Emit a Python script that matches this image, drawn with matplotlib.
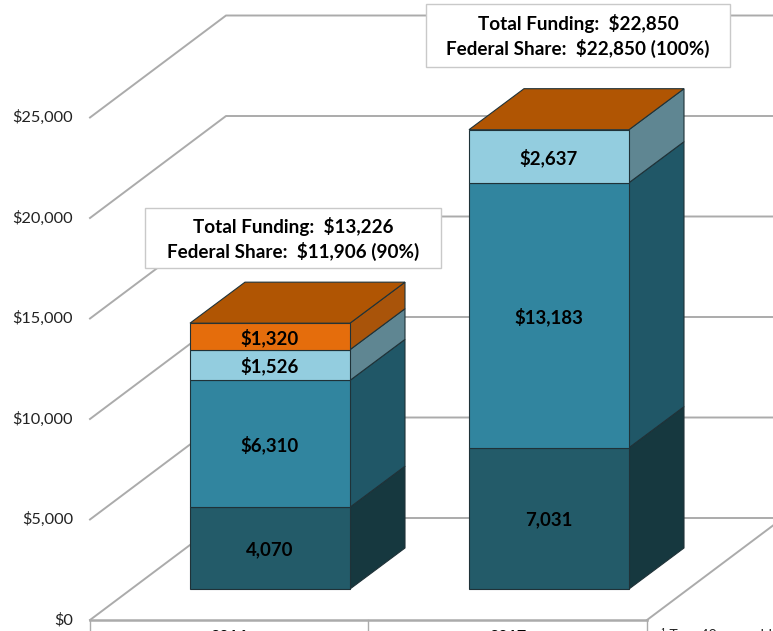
import matplotlib
matplotlib.use('Agg')
import matplotlib.pyplot as plt
from matplotlib.patches import Rectangle

plt.rcParams['font.family'] = ['Lato', 'DejaVu Sans']

years = ['2016', '2017']
tick_values = [0, 5000, 10000, 15000, 20000, 25000]
tick_labels = ['$0', '$5,000', '$10,000', '$15,000', '$20,000', '$25,000']

base = [4070, 7031]
second = [6310, 13183]
third = [1526, 2637]
fourth = [1320, 0]
stack_values = [base, second, third, fourth]
stack_labels = [
    ['4,070', '7,031'],
    ['$6,310', '$13,183'],
    ['$1,526', '$2,637'],
    ['$1,320', ''],
]
box_lines = [
    ['Total Funding:  $13,226', 'Federal Share:  $11,906 (90%)'],
    ['Total Funding:  $22,850', 'Federal Share:  $22,850 (100%)'],
]

front_colors = ['#235B69', '#31859F', '#93CDDF', '#E56D0C']
side_colors = ['#16383F', '#205767', '#5F8692', '#A9540A']
top_color = '#B05503'
edge_color = '#1F3238'
grid_color = '#ABABAB'

W, H = 773, 631
PX_PER_CAT = 279.0
PX_PER_USD = 0.0201


def px_x(p):
    return (p - 270) / PX_PER_CAT


def px_y(p):
    return (620 - p) / PX_PER_USD


fig = plt.figure(figsize=(W / 100, H / 100), dpi=100)
ax = fig.add_axes([0, 0, 1, 1])
ax.set_xlim(px_x(0), px_x(W))
ax.set_ylim(px_y(H), px_y(0))
ax.axis('off')

# depth of the fake 3d box
wall_dx = 136 / PX_PER_CAT
wall_dy = 102 / PX_PER_USD
bar_dx = 55 / PX_PER_CAT
bar_dy = 41 / PX_PER_USD
bar_width = 160 / PX_PER_CAT
floor_offset = 31 / PX_PER_USD

left = px_x(90)
right = px_x(647)
far = px_x(W)

# walls and floor
for v in tick_values:
    ax.plot([left, left + wall_dx, far], [v, v + wall_dy, v + wall_dy],
            color=grid_color, lw=1.4, zorder=1)
ax.plot([right, right + wall_dx], [0, wall_dy], color=grid_color, lw=1.4, zorder=1)
ax.plot([left, right], [0, 0], color=grid_color, lw=1.8, zorder=2)
for x in [left, px_x(368), right]:
    ax.plot([x, x], [0, px_y(H)], color=grid_color, lw=1.0, zorder=2)

for v, lab in zip(tick_values, tick_labels):
    ax.text(px_x(73), v, lab, ha='right', va='center', fontsize=11.8, color='#222222')

for i, year in enumerate(years):
    ax.text((left + px_x(368)) / 2 + i * (right - px_x(368)), px_y(630), year,
            ha='center', va='top', fontsize=11.5, fontweight='bold', color='black')

ax.text(px_x(661), px_y(628), '¹ Two 40-year old', ha='left', va='top',
        fontsize=10.2, color='#222222')

# bars
for i in range(len(years)):
    x0 = i - bar_width / 2
    x1 = i + bar_width / 2
    y = floor_offset
    for values, labels, fc, sc in zip(stack_values, stack_labels, front_colors, side_colors):
        v = values[i]
        if v == 0:
            continue
        ax.fill([x1, x1 + bar_dx, x1 + bar_dx, x1],
                [y, y + bar_dy, y + v + bar_dy, y + v],
                facecolor=sc, edgecolor=edge_color, lw=0.8, zorder=3)
        ax.fill([x0, x1, x1, x0], [y, y, y + v, y + v],
                facecolor=fc, edgecolor=edge_color, lw=0.8, zorder=4)
        ax.text(i, y + v / 2 - 60, labels[i], ha='center', va='center',
                fontsize=13.4, fontweight='bold', color='black', zorder=6)
        y += v
    ax.fill([x0, x1, x1 + bar_dx, x0 + bar_dx],
            [y, y, y + bar_dy, y + bar_dy],
            facecolor=top_color, edgecolor=edge_color, lw=0.8, zorder=5)

# summary boxes, pixel extents left, right, top, bottom
box_extents = [(145, 441, 208, 268), (426, 730, 4, 67)]
for lines, (bl, br, bt, bb) in zip(box_lines, box_extents):
    ax.add_patch(Rectangle((px_x(bl), px_y(bb)), px_x(br) - px_x(bl), px_y(bt) - px_y(bb),
                           facecolor='white', edgecolor='#C9C9C9', lw=1.0, zorder=7))
    cx = (px_x(bl) + px_x(br)) / 2
    mid = (bt + bb) / 2
    ax.text(cx, px_y(mid - 12), lines[0], ha='center', va='center', fontsize=13.6,
            fontweight='bold', color='black', zorder=8)
    ax.text(cx, px_y(mid + 13), lines[1], ha='center', va='center', fontsize=13.6,
            fontweight='bold', color='black', zorder=8)

fig.savefig('out.png', dpi=100, facecolor='white')
